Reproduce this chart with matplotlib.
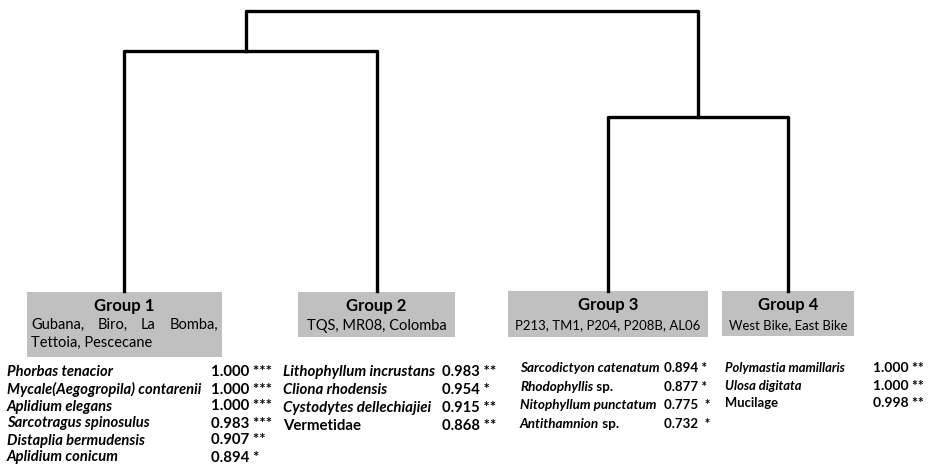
import matplotlib.pyplot as plt
from matplotlib.patches import Rectangle

plt.rcParams['font.family'] = ['Lato', 'DejaVu Sans']

# leaf order and linkage (height measured from leaves, arbitrary units)
groups = ["Group 1", "Group 2", "Group 3", "Group 4"]
sites = [["Gubana, Biro, La Bomba,", "Tettoia, Pescecane"],
         ["TQS, MR08, Colomba"],
         ["P213, TM1, P204, P208B, AL06"],
         ["West Bike, East Bike"]]
leaf_x = [124, 377, 608, 788]
h_12 = 240     # Group 1 + Group 2
h_34 = 174     # Group 3 + Group 4
h_top = 280    # all

# indicator species per group: (italic part, roman part, value, stars)
species_g1 = [("Phorbas tenacior", "", "1.000", "***"),
              ("Mycale(Aegogropila) contarenii", "", "1.000", "***"),
              ("Aplidium elegans", "", "1.000", "***"),
              ("Sarcotragus spinosulus", "", "0.983", "***"),
              ("Distaplia bermudensis", "", "0.907", "**"),
              ("Aplidium conicum", "", "0.894", "*")]
species_g2 = [("Lithophyllum incrustans", "", "0.983", "**"),
              ("Cliona rhodensis", "", "0.954", "*"),
              ("Cystodytes dellechiajiei", "", "0.915", "**"),
              ("", "Vermetidae", "0.868", "**")]
species_g3 = [("Sarcodictyon catenatum", "", "0.894", "*"),
              ("Rhodophyllis", " sp.", "0.877", "*"),
              ("Nitophyllum punctatum", "", "0.775", " *"),
              ("Antithamnion", " sp.", "0.732", " *")]
species_g4 = [("Polymastia mamillaris", "", "1.000", "**"),
              ("Ulosa digitata", "", "1.000", "**"),
              ("", "Mucilage", "0.998", "**")]

fig = plt.figure(figsize=(9.31, 4.66), dpi=100)
ax = fig.add_axes([0, 0, 1, 1])
ax.set_xlim(0, 931)
ax.set_ylim(466, 0)
ax.axis('off')
renderer = fig.canvas.get_renderer()

base = 291  # pixel row of the leaves
lw = 2.4
def ypix(h):
    return base - h

# dendrogram
x12 = (leaf_x[0] + leaf_x[1]) / 2
x34 = (leaf_x[2] + leaf_x[3]) / 2
ax.plot([leaf_x[0], leaf_x[0], leaf_x[1], leaf_x[1]],
        [base, ypix(h_12), ypix(h_12), base], color='black', lw=lw)
ax.plot([leaf_x[2], leaf_x[2], leaf_x[3], leaf_x[3]],
        [base, ypix(h_34), ypix(h_34), base], color='black', lw=lw)
ax.plot([x12 - 5, x12 - 5, x34, x34],
        [ypix(h_12), ypix(h_top), ypix(h_top), ypix(h_34)], color='black', lw=lw)


def justify(words, x0, x1, y, fs):
    # spread words evenly between x0 and x1 (like justified paragraph text)
    arts = [ax.text(0, y, w, ha='left', va='center', fontsize=fs) for w in words]
    widths = []
    for a in arts:
        bb = a.get_window_extent(renderer)
        widths.append(bb.width)
    gap = (x1 - x0 - sum(widths)) / (len(words) - 1)
    x = x0
    for a, w in zip(arts, widths):
        a.set_x(x)
        x += w + gap


# group boxes
boxes = [(27, 292, 195, 65), (298, 292, 157, 45), (508, 291, 200, 46), (722, 291, 132, 45)]
site_fs = [10.5, 10.5, 9.45, 9.4]
for (bx, by, bw, bh), g, s, sfs in zip(boxes, groups, sites, site_fs):
    ax.add_patch(Rectangle((bx, by), bw, bh, facecolor='#c0c0c0', edgecolor='none', zorder=1))
    ax.text(bx + bw / 2, by + 14, g, ha='center', va='center', fontsize=12, fontweight='bold')
    if len(s) > 1:
        justify(s[0].split(" "), bx + 4, bx + bw - 4, by + 33, sfs)
        ax.text(bx + 4, by + 51, s[1], ha='left', va='center', fontsize=sfs)
    else:
        ax.text(bx + bw / 2, by + 34, s[0], ha='center', va='center', fontsize=sfs)

# species lists: data, name x, value x, first row y, row step, name size, value size
lists = [(species_g1, 7, 211, 372.5, 17, 10.6, 10.8),
         (species_g2, 283, 442, 372, 18, 10.8, 10.6),
         (species_g3, 520, 664, 368, 18.7, 9.75, 9.6),
         (species_g4, 725, 873, 368, 17.5, 9.35, 10)]
for sp, nx, vx, y0, dy, fs, vfs in lists:
    for i, (it, rom, val, st) in enumerate(sp):
        y = y0 + i * dy
        if it:
            t = ax.text(nx, y, it, ha='left', va='center', fontsize=fs,
                        fontweight='bold', fontstyle='italic')
            if rom:
                ax.annotate(rom, xy=(1, 0.5), xycoords=t, ha='left', va='center',
                            fontsize=fs, fontweight='bold')
        else:
            ax.text(nx, y, rom, ha='left', va='center', fontsize=fs, fontweight='bold')
        ax.text(vx, y, val + " " + st, ha='left', va='center', fontsize=vfs, fontweight='bold')

fig.savefig("out.png", dpi=100)
